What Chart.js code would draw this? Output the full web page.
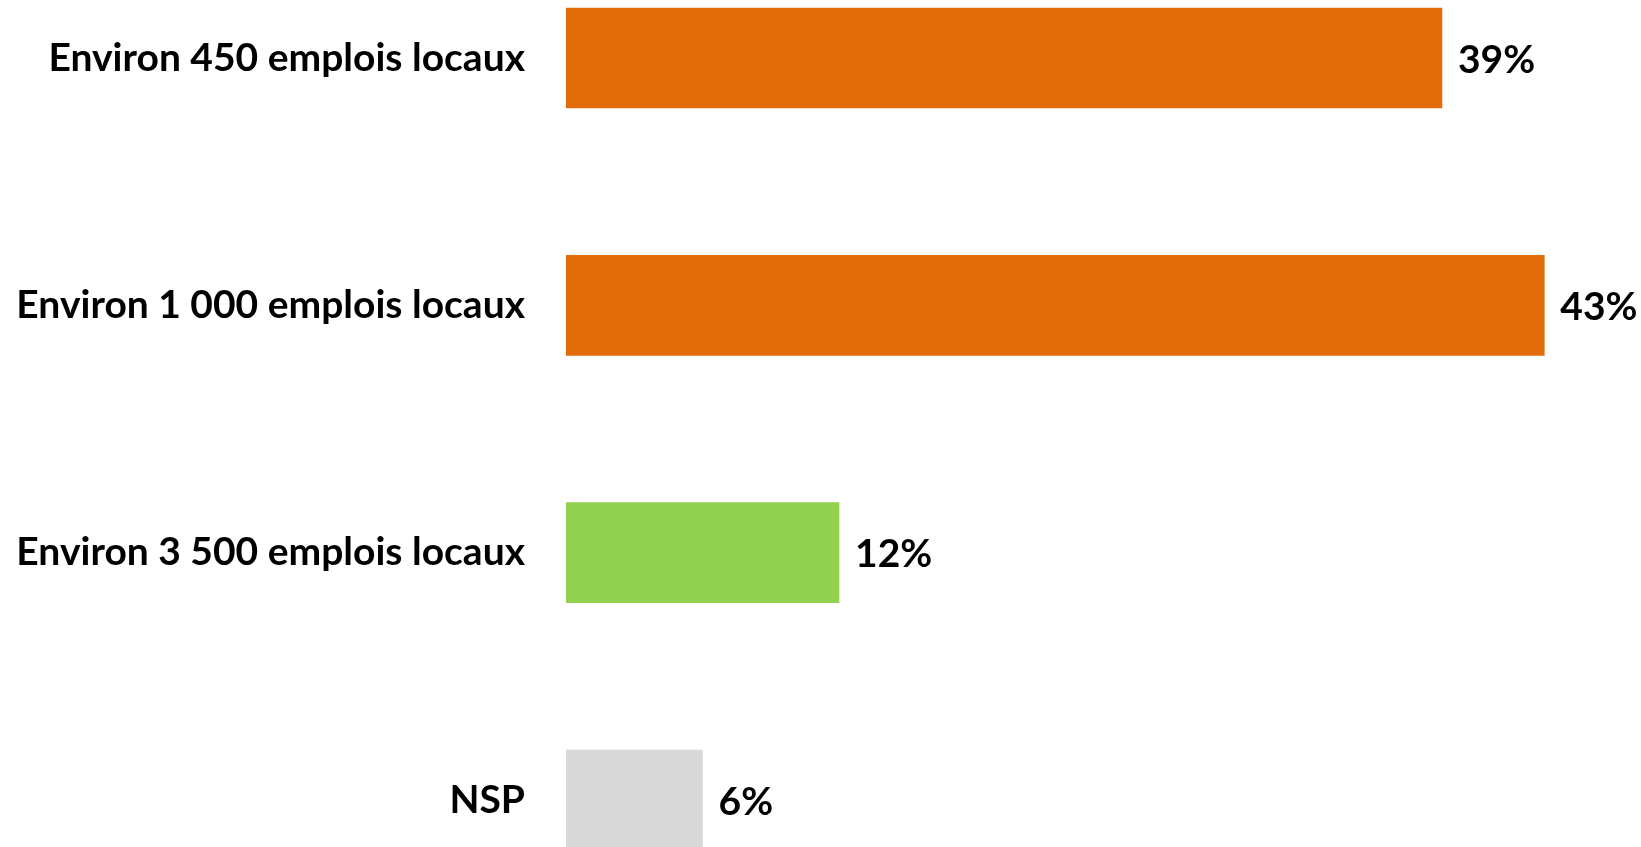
<!DOCTYPE html>
<html>
<head>
<meta charset="utf-8">
<script src="https://cdn.jsdelivr.net/npm/chart.js@4.4.0/dist/chart.umd.min.js"></script>
<style>
  html, body { margin: 0; padding: 0; background: #ffffff; overflow: hidden; }
  #wrap { position: relative; width: 1641px; height: 847px; }
</style>
</head>
<body>
<div id="wrap"><canvas id="c"></canvas></div>
<script>
const categories = ["Environ 450 emplois locaux", "Environ 1 000 emplois locaux", "Environ 3 500 emplois locaux", "NSP"];
const values = [38.5, 43, 12, 6];
const barColors = ["#E36C0A", "#E36C0A", "#92D050", "#D9D9D9"];

const FONT_FAMILY = "Lato, 'Open Sans', sans-serif";
const FONT_SIZE = 39;

const points = values.map((v, i) => ({ x: v, y: i }));

const valueLabels = {
  id: 'valueLabels',
  afterDatasetsDraw(chart) {
    const ctx = chart.ctx;
    const meta = chart.getDatasetMeta(0);
    ctx.save();
    ctx.font = "bold " + FONT_SIZE + "px " + FONT_FAMILY;
    ctx.fillStyle = "#000000";
    ctx.textAlign = "left";
    ctx.textBaseline = "middle";
    meta.data.forEach((bar, i) => {
      ctx.fillText(Math.round(values[i]) + "%", bar.x + 16, bar.y + 2);
    });
    ctx.restore();
  }
};

new Chart(document.getElementById('c'), {
  type: 'bar',
  data: {
    datasets: [{
      data: points,
      backgroundColor: barColors,
      borderWidth: 0,
      barThickness: 100
    }]
  },
  options: {
    indexAxis: 'y',
    responsive: true,
    maintainAspectRatio: false,
    animation: false,
    layout: { padding: 0 },
    plugins: {
      legend: { display: false },
      tooltip: { enabled: false },
      title: { display: false }
    },
    scales: {
      x: {
        type: 'linear',
        display: false,
        min: 0,
        max: 47.25
      },
      y: {
        type: 'linear',
        reverse: true,
        offset: false,
        bounds: 'data',
        grace: 0,
        min: -0.2345,
        max: 3.19,
        grid: { display: false, drawTicks: true, tickLength: 41, offset: false },
        border: { display: false },
        afterBuildTicks(scale) {
          scale.ticks = categories.map((c, i) => ({ value: i }));
        },
        ticks: {
          color: "#000000",
          padding: 0,
          autoSkip: false,
          font: { family: FONT_FAMILY, size: FONT_SIZE, weight: 'bold' },
          callback: (v) => categories[v]
        },
        afterFit(scale) {
          scale.width = 566;
          scale.paddingTop = 0;
          scale.paddingBottom = 0;
        }
      }
    }
  },
  plugins: [valueLabels]
});
</script>
</body>
</html>
